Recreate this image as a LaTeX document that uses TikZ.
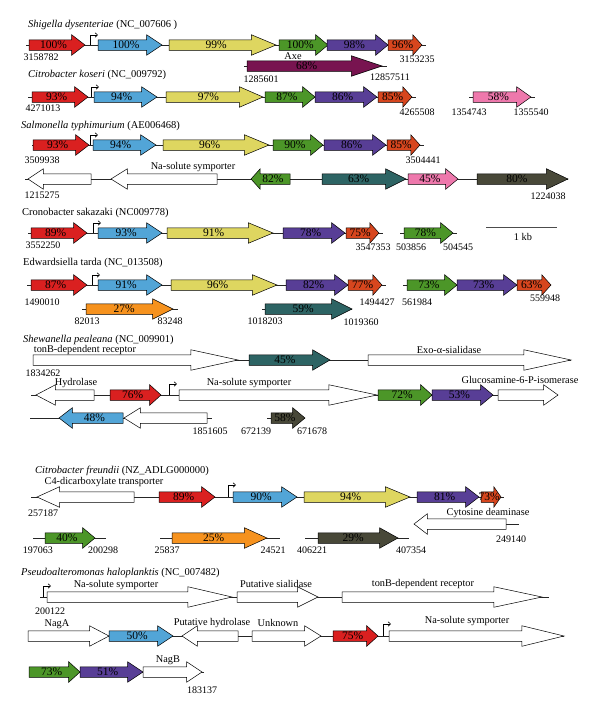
\documentclass[tikz,border=0pt]{standalone}
\usepackage{fontspec}
\setmainfont{Liberation Serif}
\usetikzlibrary{shapes.arrows, arrows.meta}

\definecolor{gred}{RGB}{218,32,32}
\definecolor{gblue}{RGB}{82,165,215}
\definecolor{gyellow}{RGB}{222,214,96}
\definecolor{ggreen}{RGB}{76,150,40}
\definecolor{gpurple}{RGB}{88,62,150}
\definecolor{gored}{RGB}{215,70,30}
\definecolor{gmaroon}{RGB}{120,20,80}
\definecolor{gpink}{RGB}{238,120,172}
\definecolor{gteal}{RGB}{45,100,100}
\definecolor{golive}{RGB}{72,72,56}
\definecolor{gorange}{RGB}{246,146,30}

\tikzset{
  genebox/.style={
    single arrow, draw, line width=0.5pt, anchor=tail,
    single arrow head extend=5pt, inner xsep=0pt, inner ysep=5pt,
    text height=0pt, text depth=0pt, outer sep=0pt
  },
  gene/.code 2 args={%
    \pgfmathsetmacro\genetip{2*atan(10/(#2))}%
    \pgfkeysalso{genebox, minimum height=#1, single arrow tip angle=\genetip}%
  },
  rev/.style={shape border rotate=180},
  pct/.style={font=\fontsize{11.5}{12}\selectfont, inner sep=0pt},
  num/.style={font=\fontsize{10}{12}\selectfont, inner sep=0pt},
  genename/.style={font=\fontsize{10.3}{12}\selectfont, inner sep=0pt},
  orgtitle/.style={font=\fontsize{10.5}{12}\selectfont, inner sep=0pt, anchor=west},
  backbone/.style={line width=0.6pt, black!85},
  prom/.style={line width=0.6pt, -{Straight Barb[length=2.5pt,width=4.5pt]}},
  scalebar/.style={line width=0.8pt, black!70}
}

\begin{document}
\begin{tikzpicture}[x=1pt, y=-1pt]
\useasboundingbox (0,0) rectangle (600,718);

% ================= Shigella dysenteriae =================
\node[orgtitle] (tSd) at (28,25) {\textit{Shigella dysenteriae} (NC\_007606 )};
\coordinate (sdL) at (26,45); \coordinate (sdR) at (426,45);
\coordinate (axL) at (244,66); \coordinate (axR) at (387,66);
\coordinate (sdP) at (90,45);
\draw[backbone] (sdL) -- (sdR);
\draw[backbone] (axL) -- (axR);
\draw[prom] (sdP) -- ++(0,-10) -- ++(8,0);
\node[gene={56}{13}, fill=gred, label={[pct]center:100\%}] (sd1) at (29,45) {};
\node[gene={64}{15}, fill=gblue, label={[pct]center:100\%}] (sd2) at (98,45) {};
\node[gene={107}{24}, fill=gyellow, label={[pct]center:99\%}] (sd3) at (169,45) {};
\node[gene={49}{12}, fill=ggreen, label={[pct]center:100\%}] (sd4) at (279,45) {};
\node[gene={61}{12}, fill=gpurple, label={[pct]center:98\%}] (sd5) at (327,45) {};
\node[gene={34}{9}, fill=gored, label={[pct]center:96\%}] (sd6) at (388,45) {};
\node[gene={135}{30}, fill=gmaroon, label={[pct]center:68\%}] (sd7) at (247,66) {};
\node[num] (sdS) at (41,57) {3158782};
\node[num] (sdE) at (417,59) {3153235};
\node[genename] (axe) at (293,56) {Axe};
\node[num] (axS) at (261,79) {1285601};
\node[num] (axE) at (390,77) {12857511};

% ================= Citrobacter koseri =================
\node[orgtitle] (tCk) at (28,75) {\textit{Citrobacter koseri} (NC\_009792)};
\coordinate (ckL) at (28,97); \coordinate (ckR) at (416,97);
\coordinate (ckL2) at (469,97); \coordinate (ckR2) at (535,97);
\coordinate (ckP) at (91,97);
\draw[backbone] (ckL) -- (ckR);
\draw[backbone] (ckL2) -- (ckR2);
\draw[prom] (ckP) -- ++(0,-10) -- ++(8,0);
\node[gene={56}{13}, fill=gred, label={[pct]center:93\%}] (ck1) at (32,97) {};
\node[gene={63}{15}, fill=gblue, label={[pct]center:94\%}] (ck2) at (94,97) {};
\node[gene={97}{23}, fill=gyellow, label={[pct]center:97\%}] (ck3) at (166,97) {};
\node[gene={50}{12}, fill=ggreen, label={[pct]center:87\%}] (ck4) at (265,97) {};
\node[gene={62}{13}, fill=gpurple, label={[pct]center:86\%}] (ck5) at (315,97) {};
\node[gene={34}{9}, fill=gored, label={[pct]center:85\%}] (ck6) at (378,97) {};
\node[gene={58}{14}, fill=gpink, label={[pct]center:58\%}] (ck7) at (473,97) {};
\node[num] (ckS) at (43,108) {4271013};
\node[num] (ckE) at (417,112) {4265508};
\node[num] (ckS2) at (469,112) {1354743};
\node[num] (ckE2) at (531,112) {1355540};

% ================= Salmonella typhimurium =================
\node[orgtitle] (tSt) at (21,126) {\textit{Salmonella typhimurium} (AE006468)};
\coordinate (stL) at (32,145); \coordinate (stR) at (424,145);
\coordinate (stL2) at (25,179); \coordinate (stR2) at (568,179);
\coordinate (stP) at (90,145);
\draw[backbone] (stL) -- (stR);
\draw[backbone] (stL2) -- (stR2);
\draw[prom] (stP) -- ++(0,-10) -- ++(8,0);
\node[gene={56}{13}, fill=gred, label={[pct]center:93\%}] (st1) at (33,145) {};
\node[gene={63}{15}, fill=gblue, label={[pct]center:94\%}] (st2) at (93,145) {};
\node[gene={106}{24}, fill=gyellow, label={[pct]center:96\%}] (st3) at (163,145) {};
\node[gene={50}{12}, fill=ggreen, label={[pct]center:90\%}] (st4) at (273,145) {};
\node[gene={62}{13}, fill=gpurple, label={[pct]center:86\%}] (st5) at (324,145) {};
\node[gene={33}{9}, fill=gored, label={[pct]center:85\%}] (st6) at (387,145) {};
\node[gene={63}{15}, rev, fill=white] (st7) at (91,179) {};
\node[gene={106}{16}, rev, fill=white] (st8) at (217,179) {};
\node[gene={39}{9}, rev, fill=ggreen, label={[pct]center:82\%}] (st9) at (290,179) {};
\node[gene={84}{20}, fill=gteal, label={[pct]center:63\%}] (st10) at (322,179) {};
\node[gene={50}{12}, fill=gpink, label={[pct]center:45\%}] (st11) at (408,179) {};
\node[gene={91}{21}, fill=golive, label={[pct]center:80\%}] (st12) at (477,179) {};
\node[num] (stS) at (42,160) {3509938};
\node[num] (stE) at (423,160) {3504441};
\node[genename] (stNa) at (193,167) {Na-solute symporter};
\node[num] (stS2) at (42,195) {1215275};
\node[num] (stE2) at (548,196) {1224038};

% ================= Cronobacter sakazaki =================
\node[orgtitle] (tCs) at (22,213) {Cronobacter sakazaki (NC009778)};
\coordinate (csL) at (28,233); \coordinate (csR) at (383,233);
\coordinate (csL2) at (400,233); \coordinate (csR2) at (457,233);
\coordinate (csP) at (93,233);
\coordinate (sbL) at (486,227); \coordinate (sbR) at (557,227);
\draw[backbone] (csL) -- (csR);
\draw[backbone] (csL2) -- (csR2);
\draw[prom] (csP) -- ++(0,-10) -- ++(8,0);
\draw[scalebar] (sbL) -- (sbR);
\node[gene={56}{13}, fill=gred, label={[pct]center:89\%}] (cs1) at (31,233) {};
\node[gene={64}{15}, fill=gblue, label={[pct]center:93\%}] (cs2) at (98,233) {};
\node[gene={106}{24}, fill=gyellow, label={[pct]center:91\%}] (cs3) at (167,233) {};
\node[gene={62}{13}, fill=gpurple, label={[pct]center:78\%}] (cs4) at (283,233) {};
\node[gene={33}{9}, fill=gored, label={[pct]center:75\%}] (cs5) at (346,233) {};
\node[gene={49}{12}, fill=ggreen, label={[pct]center:78\%}] (cs6) at (404,233) {};
\node[genename] (kb) at (523,237) {1 kb};
\node[num] (csS) at (43,245) {3552250};
\node[num] (csE) at (373,247) {3547353};
\node[num] (csS2) at (411,247) {503856};
\node[num] (csE2) at (458,247) {504545};

% ================= Edwardsiella tarda =================
\node[orgtitle] (tEt) at (23,263) {Edwardsiella tarda (NC\_013508)};
\coordinate (etL) at (27,285); \coordinate (etR) at (386,285);
\coordinate (etL2) at (403,285); \coordinate (etR2) at (551,285);
\coordinate (etL3) at (82,309); \coordinate (etR3) at (178,309);
\coordinate (etL4) at (262,309); \coordinate (etR4) at (352,309);
\coordinate (etP) at (92,285);
\draw[backbone] (etL) -- (etR);
\draw[backbone] (etL2) -- (etR2);
\draw[backbone] (etL3) -- (etR3);
\draw[backbone] (etL4) -- (etR4);
\draw[prom] (etP) -- ++(0,-10) -- ++(8,0);
\node[gene={56}{13}, fill=gred, label={[pct]center:87\%}] (et1) at (31,285) {};
\node[gene={64}{15}, fill=gblue, label={[pct]center:91\%}] (et2) at (98,285) {};
\node[gene={106}{24}, fill=gyellow, label={[pct]center:96\%}] (et3) at (171,285) {};
\node[gene={62}{13}, fill=gpurple, label={[pct]center:82\%}] (et4) at (286,285) {};
\node[gene={34}{9}, fill=gored, label={[pct]center:77\%}] (et5) at (348,285) {};
\node[gene={50}{12}, fill=ggreen, label={[pct]center:73\%}] (et6) at (407,285) {};
\node[gene={60}{13}, fill=gpurple, label={[pct]center:73\%}] (et7) at (457,285) {};
\node[gene={34}{9}, fill=gored, label={[pct]center:63\%}] (et8) at (517,285) {};
\node[gene={87}{20}, fill=gorange, label={[pct]center:27\%}] (et9) at (86,309) {};
\node[gene={87}{20}, fill=gteal, label={[pct]center:59\%}] (et10) at (265,309) {};
\node[num] (etS) at (42,302) {1490010};
\node[num] (etE) at (377,302) {1494427};
\node[num] (etS2) at (417,302) {561984};
\node[num] (etE2) at (545,298) {559948};
\node[num] (etS3) at (87,321) {82013};
\node[num] (etE3) at (170,321) {83248};
\node[num] (etS4) at (265,321) {1018203};
\node[num] (etE4) at (361,322) {1019360};

% ================= Shewanella pealeana =================
\node[orgtitle] (tSp) at (23,340) {\textit{Shewanella pealeana} (NC\_009901)};
\coordinate (spL) at (33,360); \coordinate (spR) at (571,360);
\coordinate (spL2) at (31,395); \coordinate (spR2) at (558,395);
\coordinate (spL3) at (30,418); \coordinate (spR3) at (212,418);
\coordinate (spL4) at (267,418); \coordinate (spR4) at (305,418);
\coordinate (spP) at (169,395);
\draw[backbone] (spL) -- (spR);
\draw[backbone] (spL2) -- (spR2);
\draw[backbone] (spL3) -- (spR3);
\draw[backbone] (spL4) -- (spR4);
\draw[prom] (spP) -- ++(0,-11) -- ++(8,0);
\node[gene={205}{46}, fill=white] (sp1) at (33,360) {};
\node[gene={81}{17}, fill=gteal, label={[pct]center:45\%}] (sp2) at (249,360) {};
\node[gene={203}{46}, fill=white] (sp3) at (368,360) {};
\node[gene={58}{19}, rev, fill=white] (sp4) at (94,395) {};
\node[gene={51}{11}, fill=gred, label={[pct]center:76\%}] (sp5) at (110,395) {};
\node[gene={198}{47}, fill=white] (sp6) at (179,395) {};
\node[gene={54}{11}, fill=ggreen, label={[pct]center:72\%}] (sp7) at (378,395) {};
\node[gene={61}{12}, fill=gpurple, label={[pct]center:53\%}] (sp8) at (432,395) {};
\node[gene={60}{14}, fill=white] (sp9) at (498,395) {};
\node[gene={64}{13}, rev, fill=gblue, label={[pct]center:48\%}] (sp10) at (123,418) {};
\node[gene={83}{16}, rev, fill=white] (sp11) at (207,418) {};
\node[gene={34}{12}, fill=golive, label={[pct]center:58\%}] (sp12) at (271,418) {};
\node[genename] (spTon) at (85,350) {tonB-dependent receptor};
\node[genename] (spExo) at (449,350) {Exo-α-sialidase};
\node[num] (spS) at (43,373) {1834262};
\node[genename] (spHyd) at (76,383) {Hydrolase};
\node[genename] (spNa) at (249,383) {Na-solute symporter};
\node[genename] (spGlc) at (520,380) {Glucosamine-6-P-isomerase};
\node[num] (spE3) at (210,431) {1851605};
\node[num] (spS4) at (256,431) {672139};
\node[num] (spE4) at (312,431) {671678};

% ================= Citrobacter freundii =================
\node[orgtitle] (tCf) at (35,471) {\textit{Citrobacter freundii} (NZ\_ADLG000000)};
\coordinate (cfL) at (31,497); \coordinate (cfR) at (504,497);
\coordinate (cfL2) at (414,524); \coordinate (cfR2) at (519,524);
\coordinate (cfL3) at (33,538); \coordinate (cfR3) at (106,538);
\coordinate (cfL4) at (160,538); \coordinate (cfR4) at (280,538);
\coordinate (cfL5) at (305,538); \coordinate (cfR5) at (409,538);
\coordinate (cfP) at (228,497);
\draw[backbone] (cfL) -- (cfR);
\draw[backbone] (cfL2) -- (cfR2);
\draw[backbone] (cfL3) -- (cfR3);
\draw[backbone] (cfL4) -- (cfR4);
\draw[backbone] (cfL5) -- (cfR5);
\draw[prom] (cfP) -- ++(0,-12) -- ++(8,0);
\node[gene={97}{22}, rev, fill=white] (cf1) at (134,497) {};
\node[gene={56}{13}, fill=gred, label={[pct]center:89\%}] (cf2) at (159,497) {};
\node[gene={64}{15}, fill=gblue, label={[pct]center:90\%}] (cf3) at (233,497) {};
\node[gene={106}{24}, fill=gyellow, label={[pct]center:94\%}] (cf4) at (304,497) {};
\node[gene={62}{13}, fill=gpurple, label={[pct]center:81\%}] (cf5) at (417,497) {};
\node[gene={20}{7}, fill=gored, label={[pct]center:73\%}] (cf6) at (481,497) {};
\node[gene={92}{13}, rev, fill=white] (cf7) at (506,524) {};
\node[gene={50}{12}, fill=ggreen, label={[pct]center:40\%}] (cf8) at (45,538) {};
\node[gene={95}{22}, fill=gorange, label={[pct]center:25\%}] (cf9) at (172,538) {};
\node[gene={80}{18}, fill=golive, label={[pct]center:29\%}] (cf10) at (318,538) {};
\node[genename] (cfC4) at (104,482) {C4-dicarboxylate transporter};
\node[num] (cfS) at (43,513) {257187};
\node[genename] (cfCyt) at (488,513) {Cytosine deaminase};
\node[num] (cfE2) at (511,539) {249140};
\node[num] (cfS3) at (38,550) {197063};
\node[num] (cfE3) at (103,550) {200298};
\node[num] (cfS4) at (167,550) {25837};
\node[num] (cfE4) at (273,550) {24521};
\node[num] (cfS5) at (312,550) {406221};
\node[num] (cfE5) at (411,550) {407354};

% ================= Pseudoalteromonas haloplanktis =================
\node[orgtitle] (tPh) at (21,573) {\textit{Pseudoalteromonas haloplanktis} (NC\_007482)};
\coordinate (phL) at (40,597); \coordinate (phR) at (549,597);
\coordinate (phL2) at (28,636); \coordinate (phR2) at (564,636);
\coordinate (phL3) at (29,672); \coordinate (phR3) at (204,672);
\coordinate (phP) at (43,597); \coordinate (phP2) at (383,636);
\draw[backbone] (phL) -- (phR);
\draw[backbone] (phL2) -- (phR2);
\draw[backbone] (phL3) -- (phR3);
\draw[prom] (phP) -- ++(0,-11) -- ++(8,0);
\draw[prom] (phP2) -- ++(0,-12) -- ++(8,0);
\node[gene={185}{43}, fill=white] (ph1) at (47,597) {};
\node[gene={81}{20}, fill=white] (ph2) at (237,597) {};
\node[gene={200}{47}, fill=white] (ph3) at (342,597) {};
\node[gene={81}{19}, fill=white] (ph4) at (28,636) {};
\node[gene={64}{15}, fill=gblue, label={[pct]center:50\%}] (ph5) at (109,636) {};
\node[gene={56}{15}, rev, fill=white] (ph6) at (238,636) {};
\node[gene={69}{16}, fill=white] (ph7) at (252,636) {};
\node[gene={45}{11}, fill=gred, label={[pct]center:75\%}] (ph8) at (333,636) {};
\node[gene={175}{41}, fill=white] (ph9) at (389,636) {};
\node[gene={51}{11}, fill=ggreen, label={[pct]center:73\%}] (ph10) at (29,672) {};
\node[gene={63}{15}, fill=gpurple, label={[pct]center:51\%}] (ph11) at (80,672) {};
\node[gene={59}{15}, fill=white] (ph12) at (143,672) {};
\node[genename] (phNa) at (116,585) {Na-solute symporter};
\node[genename] (phSia) at (276,584) {Putative sialidase};
\node[genename] (phTon) at (423,584) {tonB-dependent receptor};
\node[num] (phS) at (50,611) {200122};
\node[genename] (phNagA) at (57,624) {NagA};
\node[genename] (phHyd) at (212,623) {Putative hydrolase};
\node[genename] (phUnk) at (278,623) {Unknown};
\node[genename] (phNa2) at (467,621) {Na-solute symporter};
\node[genename] (phNagB) at (168,660) {NagB};
\node[num] (phE) at (202,690) {183137};

\end{tikzpicture}
\end{document}
